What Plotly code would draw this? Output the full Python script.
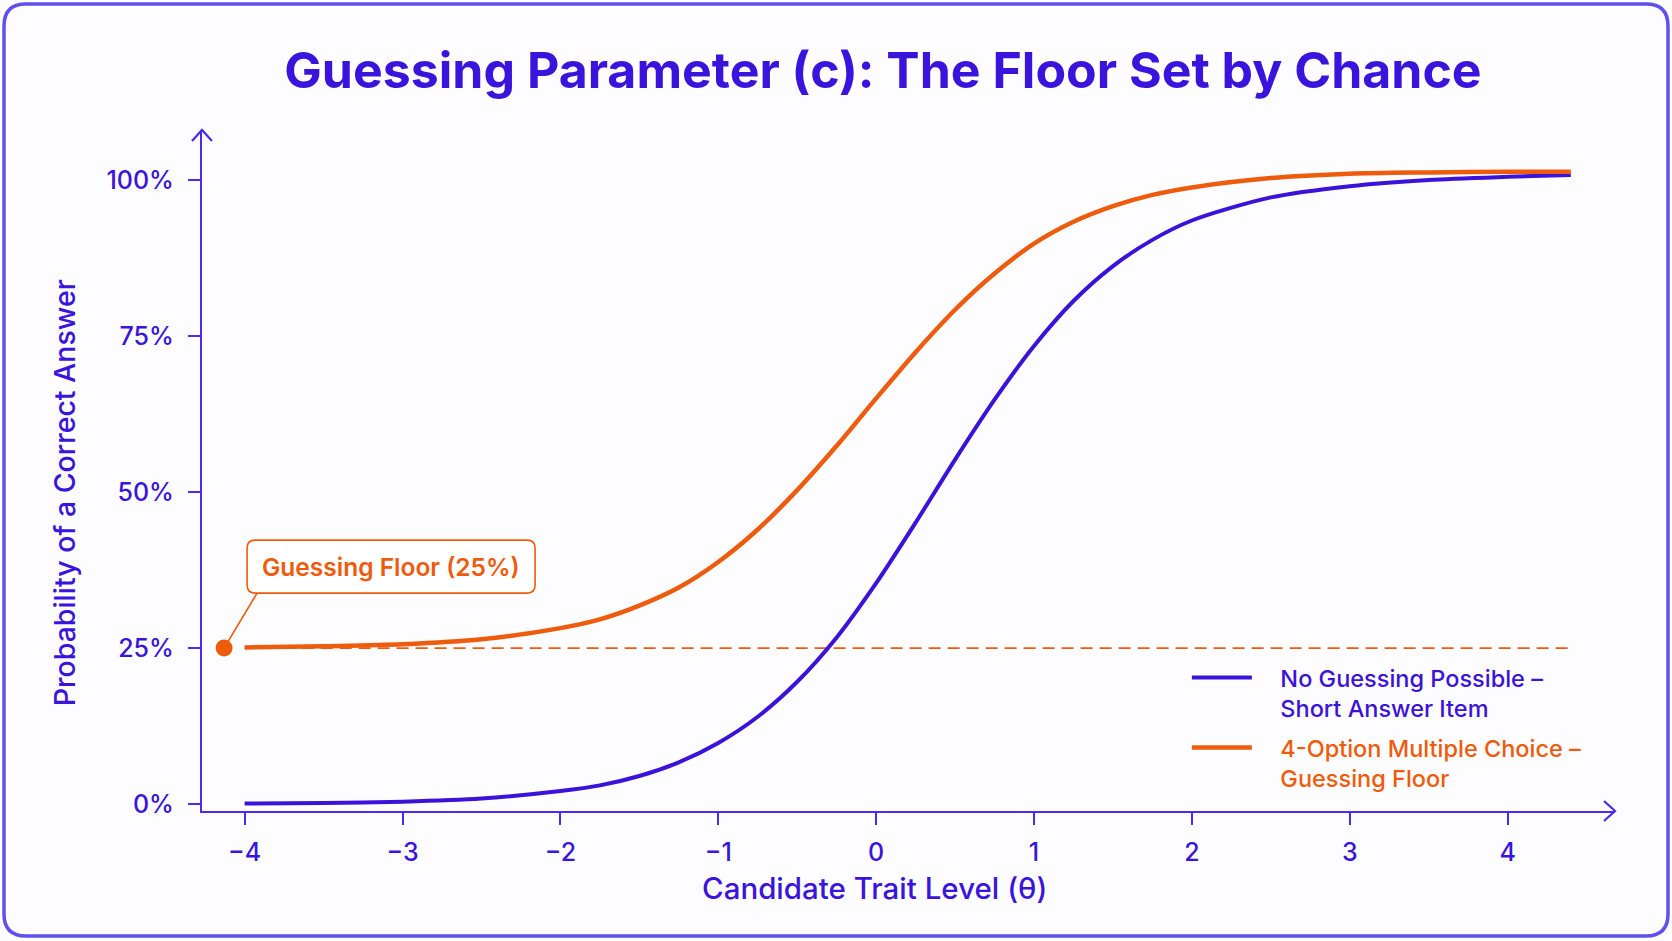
import plotly.graph_objects as go

# values
theta = [-4, -3.5, -3, -2.5, -2, -1.75, -1.5, -1.25, -1, -0.75, -0.5, -0.25,
         0, 0.25, 0.5, 0.75, 1, 1.25, 1.5, 1.75, 2, 2.5, 3, 3.5, 4, 4.4]
p_short_answer = [0.1, 0.2, 0.4, 0.9, 2.1, 3.0, 4.5, 6.7, 9.8, 14.0, 19.6, 26.7,
                  35.4, 45.1, 55.2, 64.8, 73.4, 80.6, 86.2, 90.4, 93.5, 97.2, 99.0, 100.0, 100.5, 100.8]
p_multiple_choice = [25.1, 25.3, 25.6, 26.4, 28.2, 29.6, 31.8, 34.7, 38.8, 44.0, 50.3, 57.4,
                     65.0, 72.4, 79.2, 85.0, 89.8, 93.3, 95.8, 97.6, 98.8, 100.3, 101.0, 101.2, 101.3, 101.3]

floor_theta = [-4, 4.4]
floor_pct = [25, 25]
floor_marker_theta = [-4.13]
floor_marker_pct = [25]

x_ticks = [-4, -3, -2, -1, 0, 1, 2, 3, 4]
y_ticks = [0, 25, 50, 75, 100]
y_tick_labels = ['0%', '25%', '50%', '75%', '100%']

BLUE = '#3b12d9'
ORANGE = '#ef5b0c'
AXIS = '#4a2af0'
TEXT = '#3a14dc'
BORDER = '#5f50ef'
FONT = 'Inter'

W, H = 1672, 941
L, R, T, B = 202, 57, 130, 130

fig = go.Figure()

fig.add_trace(go.Scatter(
    x=floor_theta, y=floor_pct, mode='lines',
    line=dict(color=ORANGE, width=1.8, dash='12px,7px'),
    showlegend=False, hoverinfo='skip'))

gap = '\u2002\u2002'
fig.add_trace(go.Scatter(
    x=theta, y=p_short_answer, mode='lines',
    line=dict(color=BLUE, width=4, shape='spline', smoothing=0.8),
    name=f"<span style='color:{BLUE}'>{gap}No Guessing Possible –<br>{gap}Short Answer Item</span>",
    legendgroup='a'))

fig.add_trace(go.Scatter(
    x=theta, y=p_multiple_choice, mode='lines',
    line=dict(color=ORANGE, width=4.5, shape='spline', smoothing=0.8),
    name=f"<span style='color:{ORANGE}'>{gap}4-Option Multiple Choice –<br>{gap}Guessing Floor</span>",
    legendgroup='b'))

fig.add_trace(go.Scatter(
    x=floor_marker_theta, y=floor_marker_pct, mode='markers',
    marker=dict(color=ORANGE, size=17),
    showlegend=False, hoverinfo='skip'))

mx, my = floor_marker_theta[0], floor_marker_pct[0]

# frame edges in pixels relative to the plot-area corner
fl, fr, ft, fb, rad = -L + 4, W - L - 4, H - B - 4, -B + 5, 22
shapes = [
    dict(type='path', xref='paper', yref='paper', xsizemode='pixel', ysizemode='pixel',
         xanchor=0, yanchor=0,
         path=(f"M {fl + rad},{ft} L {fr - rad},{ft} Q {fr},{ft} {fr},{ft - rad} "
               f"L {fr},{fb + rad} Q {fr},{fb} {fr - rad},{fb} "
               f"L {fl + rad},{fb} Q {fl},{fb} {fl},{fb + rad} "
               f"L {fl},{ft - rad} Q {fl},{ft} {fl + rad},{ft} Z"),
         line=dict(color=BORDER, width=3.5), layer='below'),
    # arrow heads on the axes
    dict(type='path', xref='paper', yref='paper', xsizemode='pixel', ysizemode='pixel',
         xanchor=0, yanchor=1, path='M -10,-11 L 0,0 L 10,-11',
         line=dict(color=AXIS, width=2.2)),
    dict(type='path', xref='paper', yref='paper', xsizemode='pixel', ysizemode='pixel',
         xanchor=1, yanchor=0, path='M -11,10 L 0,0 L -11,-10',
         line=dict(color=AXIS, width=2.2)),
    # callout box and connector
    dict(type='path', xref='x', yref='y', xsizemode='pixel', ysizemode='pixel',
         xanchor=mx, yanchor=my,
         path='M 31,108 L 303,108 Q 311,108 311,100 L 311,63 Q 311,55 303,55 '
              'L 31,55 Q 23,55 23,63 L 23,100 Q 23,108 31,108 Z',
         line=dict(color=ORANGE, width=1.6), fillcolor='white'),
    dict(type='line', xref='x', yref='y', xsizemode='pixel', ysizemode='pixel',
         xanchor=mx, yanchor=my, x0=33, y0=55, x1=0, y1=0,
         line=dict(color=ORANGE, width=1.6)),
]

axis_title_font = dict(family=FONT, size=29.5, color=TEXT, weight=500)

fig.update_layout(
    width=W, height=H,
    margin=dict(l=L, r=R, t=T, b=B),
    paper_bgcolor='#fdfdff', plot_bgcolor='#fdfdff',
    font=dict(family=FONT, color=TEXT),
    title=dict(text='Guessing Parameter (c): The Floor Set by Chance',
               x=883 / W, xref='container', xanchor='center', y=1 - 70 / H, yanchor='middle',
               font=dict(family=FONT, size=50, color=TEXT, weight=700)),
    shapes=shapes,
    annotations=[
        dict(x=mx, y=my, xref='x', yref='y', text='Guessing Floor (25%)',
             showarrow=False, xshift=167, yshift=81,
             font=dict(family=FONT, size=24.5, color=ORANGE, weight=600)),
        dict(x=0.4756, y=-0.113, xref='paper', yref='paper', text='Candidate Trait Level (θ)',
             showarrow=False, xanchor='center', yanchor='middle', font=axis_title_font),
        dict(x=-0.0977, y=0.468, xref='paper', yref='paper', text='Probability of a Correct Answer',
             showarrow=False, xanchor='center', yanchor='middle', textangle=-90,
             font=dict(family=FONT, size=28.5, color=TEXT, weight=500)),
    ],
    legend=dict(x=0.697, y=0.228, xanchor='left', yanchor='top',
                bgcolor='rgba(0,0,0,0)', font=dict(family=FONT, size=23.5, weight=500),
                traceorder='grouped', tracegroupgap=6, itemwidth=60, valign='top'),
    showlegend=True,
)

fig.update_xaxes(
    range=[-4.27, 4.68], tickvals=x_ticks, showgrid=False, zeroline=False,
    showline=True, linecolor=AXIS, linewidth=2.2,
    ticks='outside', ticklen=12, tickwidth=2, tickcolor=AXIS,
    tickfont=dict(family=FONT, size=25, color=TEXT, weight=500), ticklabelstandoff=6)

fig.update_yaxes(
    range=[-1.1, 108], tickvals=y_ticks, ticktext=y_tick_labels, showgrid=False, zeroline=False,
    showline=True, linecolor=AXIS, linewidth=2.2,
    ticks='outside', ticklen=12, tickwidth=2, tickcolor=AXIS,
    tickfont=dict(family=FONT, size=25, color=TEXT, weight=500), ticklabelstandoff=9)

fig.write_html('out.html', config={'displayModeBar': False},
               post_script="document.body.style.margin='0';")
